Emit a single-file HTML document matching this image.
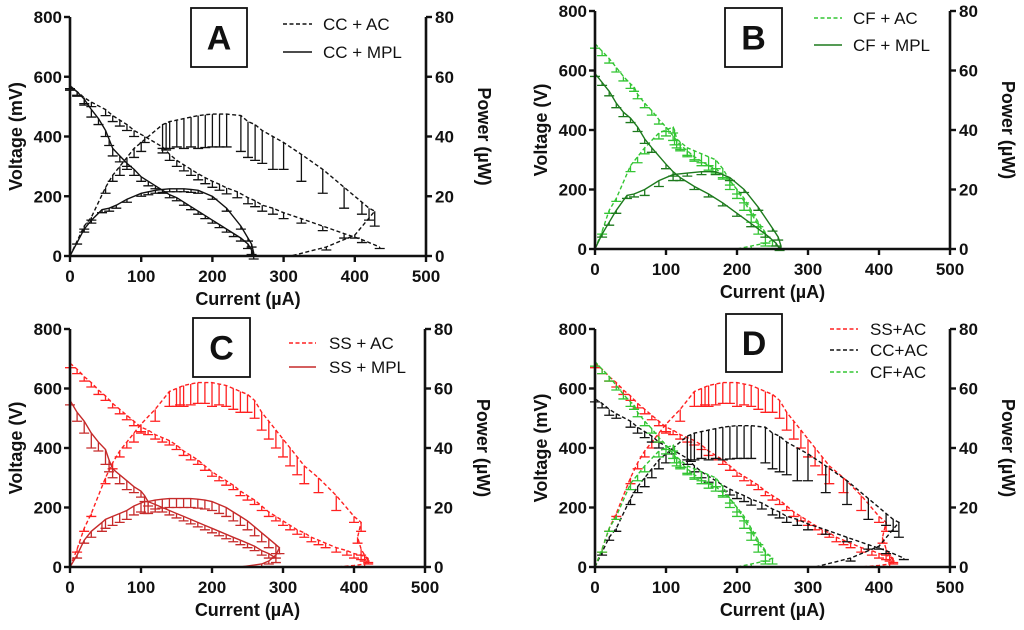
<!DOCTYPE html>
<html><head><meta charset="utf-8">
<style>
body{margin:0;background:#fff;}
svg{display:block;font-family:"Liberation Sans",Arial,sans-serif;}
.tk{font-size:17px;font-weight:bold;fill:#111;}
.tt{font-size:18px;font-weight:bold;fill:#111;}
.lg{font-size:17px;fill:#111;}
</style></head>
<body>
<svg id="chart" width="1024" height="630" viewBox="0 0 1024 630"></svg>
<script>
// ---------- data ----------
const xTicks = [0,100,200,300,400,500];
const vTicks = [0,200,400,600,800];
const pTicks = [0,20,40,60,80];

// CC + AC
const ccAcVI = [0,10,20,30,50,60,70,80,90,105,130,140,150,160,170,180,190,200,210,220,235,250,260,270,285,300,325,355,385,410,435];
const ccAcV  = [565,550,530,515,490,470,455,440,420,400,365,340,320,305,290,275,262,250,240,228,215,195,185,170,160,145,125,100,75,55,30];
const ccAcVE = [10,15,20,15,20,20,20,20,20,20,20,20,20,20,20,20,20,20,20,20,20,20,20,20,20,20,15,15,15,10,5];
const ccAcPI = [0,10,20,30,50,60,70,80,90,100,130,135,140,150,160,170,180,190,200,210,220,240,250,260,270,285,300,325,355,385,410,420,428,400,360,310];
const ccAcP  = [0,5,10,13,23,27,30,33,36,38,44,44.5,45,45.5,46,46.5,47,47.3,47.5,47.5,47.5,47,45,44,42,40,38,34,29,23,18,16,15,7,3,0];
const ccAcPE = [0,1,1,1,2,2,3,3,3,3,8,9,9,9,10,10,11,11,11,11,11,12,12,12,11,11,9,9,8,7,4,4,5,1,1,0];

// CC + MPL
const ccMpVI = [0,10,20,30,40,50,55,60,70,80,90,100,110,120,130,140,150,160,170,180,190,200,210,220,230,240,250,255,258];
const ccMpV  = [570,550,525,490,460,420,390,360,335,310,290,265,250,235,220,205,195,180,165,150,135,120,105,90,75,60,40,20,0];
const ccMpVE = [10,12,20,25,20,20,20,25,20,20,20,15,15,10,10,10,10,10,10,10,10,10,10,10,10,10,15,15,10];
const ccMpPI = [0,20,30,45,55,65,80,100,110,120,130,140,150,160,170,180,200,220,240,250,255,258,252];
const ccMpP  = [0,9,12,15.5,16,17,19,21,21.5,22,22.3,22.5,22.5,22.5,22.3,22,20,16,10,6,4,1,0];
const ccMpPE = [0,1,1,1,1,1,1,1,1,1,1,1,1,1,1,1,1,1,1,1,1,1,0];

// CF + AC
const cfAcVI = [0,10,20,30,40,50,55,60,70,80,90,100,110,115,120,130,140,150,160,170,180,190,200,210,220,230,240];
const cfAcV  = [690,665,640,610,580,555,545,520,490,465,435,410,380,365,350,330,310,295,280,270,250,230,200,170,130,90,55];
const cfAcVE = [15,15,15,15,15,15,15,15,15,15,15,15,15,15,15,15,15,15,15,15,15,15,15,15,15,15,15];
const cfAcPI = [0,10,20,30,50,60,70,90,100,110,112,115,120,130,140,150,160,170,180,190,200,210,220,230,240,250,240,220,200];
const cfAcP  = [0,6,13,17,28,31,34,39,40,41,40,37,36,34,33,32,31,30,27,23,20,16,12,8,5,3,2,1,0];
const cfAcPE = [0,1,1,1,2,2,2,2,2,2,5,3,3,3,3,3,3,3,3,3,3,3,3,3,3,2,1,1,0];

// CF + MPL
const cfMpVI = [0,10,20,30,40,50,60,70,80,100,110,120,140,160,180,200,220,240,255,260];
const cfMpV  = [590,560,530,490,460,440,410,370,340,285,260,240,210,185,155,120,85,50,20,0];
const cfMpVE = [10,10,15,15,15,15,15,15,15,15,15,10,10,10,10,10,10,10,10,5];
const cfMpPI = [0,10,20,30,45,55,70,90,110,130,150,170,190,210,230,250,258,262,258];
const cfMpP  = [0,5,9,13,18,18.5,20,23,25,25.5,26,26,24,20,14,7,4,1,0];
const cfMpPE = [0,1,1,1,1,1,2,2,2,1,1,1,1,1,1,1,1,1,0];

// SS + AC
const ssAcVI = [0,10,20,30,40,50,60,70,80,90,100,110,120,130,140,150,160,170,180,190,200,210,220,230,240,250,260,270,280,290,300,310,320,330,340,350,360,375,390,400,410,420];
const ssAcV  = [685,665,640,620,595,575,550,530,510,490,470,460,445,435,425,410,390,375,360,340,320,305,290,275,255,240,225,205,185,170,155,140,125,115,100,90,80,65,55,45,40,30];
const ssAcVE = [15,15,15,15,15,15,15,15,15,15,15,15,15,15,15,15,15,15,15,15,15,15,15,15,15,15,15,15,15,15,15,15,15,15,15,15,15,15,15,15,15,15];
const ssAcPI = [0,10,20,30,50,60,70,80,90,100,120,140,150,155,160,170,180,190,200,210,220,230,240,250,260,270,280,290,300,310,320,330,350,375,400,410,405,410,415,420,415,400,375];
const ssAcP  = [0,6,13,18,30,35,39,42,45,48,53,59,60,60.5,61,61.5,62,62,62,61.5,61,60,59,58,56,52,49,46,43,40,37,34,30,24,17,15,10,6,4,2,1,0.5,0];
const ssAcPE = [0,1,1,1,2,2,2,2,3,3,4,5,6,6,7,7,7,7,8,7,7,7,7,6,6,6,6,6,6,6,6,6,5,5,2,3,2,2,2,1,1,0,0];

// SS + MPL
const ssMpVI = [0,10,20,30,40,50,55,60,70,80,90,100,105,110,120,130,140,150,160,170,180,190,200,210,220,230,240,250,260,270,280,290];
const ssMpV  = [560,520,490,450,420,395,360,330,310,290,270,255,240,220,210,200,190,180,170,160,150,140,130,120,110,100,90,80,70,55,45,30];
const ssMpVE = [15,30,40,50,30,50,40,30,30,30,20,20,20,15,15,15,15,15,15,15,15,15,15,15,15,15,15,15,15,15,15,15];
const ssMpPI = [0,10,20,30,45,50,60,70,80,90,100,105,110,120,130,140,150,160,170,180,190,200,210,220,230,240,250,260,270,280,290,295,290,280,270,240];
const ssMpP  = [0,4,9,12,15,16,17,18,19,20.5,21.5,22,22,22.5,22.8,23,23,23,23,22.8,22.5,22,21,20,18.5,17,15.5,13.5,11.5,9.5,7.5,6.5,4,2,1,0];
const ssMpPE = [0,1,1,2,3,3,3,3,3,3,3,4,4,4,3,3,3,3,3,3,3,3,3,3,3,3,3,3,3,3,3,2,1,1,1,0];

// ---------- drawing ----------
const NS = 'http://www.w3.org/2000/svg';
const svg = document.getElementById('chart');
function mk(tag, attrs, parent){
  const e = document.createElementNS(NS, tag);
  for (const k in attrs) e.setAttribute(k, attrs[k]);
  (parent||svg).appendChild(e);
  return e;
}
const C_CC='#111', C_CFAC='#33c533', C_CFMP='#1d7a1d', C_SSAC='#ff2020', C_SSMP='#c62a2a';
function ser(name,color,dash,vi,v,ve,pi,p,pe,label){return {name,color,dash,vi,v,ve,pi,p,pe,label};}
const sCcAc = ser('cc-ac',C_CC,true,ccAcVI,ccAcV,ccAcVE,ccAcPI,ccAcP,ccAcPE,'CC + AC');
const sCcMp = ser('cc-mpl',C_CC,false,ccMpVI,ccMpV,ccMpVE,ccMpPI,ccMpP,ccMpPE,'CC + MPL');
const sCfAc = ser('cf-ac',C_CFAC,true,cfAcVI,cfAcV,cfAcVE,cfAcPI,cfAcP,cfAcPE,'CF + AC');
const sCfMp = ser('cf-mpl',C_CFMP,false,cfMpVI,cfMpV,cfMpVE,cfMpPI,cfMpP,cfMpPE,'CF + MPL');
const sSsAc = ser('ss-ac',C_SSAC,true,ssAcVI,ssAcV,ssAcVE,ssAcPI,ssAcP,ssAcPE,'SS + AC');
const sSsMp = ser('ss-mpl',C_SSMP,false,ssMpVI,ssMpV,ssMpVE,ssMpPI,ssMpP,ssMpPE,'SS + MPL');

const panels = [
 {id:'a',letter:'A',x0:70,x1:426,yT:17,yB:256,ylab:'Voltage (mV)',series:[sCcAc,sCcMp],box:[191,8,56,59],leg:{x1:283,x2:312,tx:323,ys:[24,52]},labels:null},
 {id:'b',letter:'B',x0:595,x1:950,yT:11,yB:249,ylab:'Voltage (V)',series:[sCfAc,sCfMp],box:[725,8,57,59],leg:{x1:814,x2:842,tx:853,ys:[18,45]},labels:null},
 {id:'c',letter:'C',x0:70,x1:425,yT:329,yB:567,ylab:'Voltage (V)',series:[sSsAc,sSsMp],box:[193,318,57,59],leg:{x1:289,x2:316,tx:329,ys:[343,367]},labels:null},
 {id:'d',letter:'D',x0:595,x1:950,yT:329,yB:567,ylab:'Voltage (mV)',series:[sSsAc,sCcAc,sCfAc],box:[726,314,56,58],leg:{x1:830,x2:858,tx:870,ys:[329,350,372]},labels:['SS+AC','CC+AC','CF+AC']}
];

panels.forEach(P=>{
  const g = mk('g',{});
  
  
  const X = v => P.x0 + (P.x1-P.x0)*v/500;
  const YV = v => P.yB - (P.yB-P.yT)*v/800;
  const YP = v => P.yB - (P.yB-P.yT)*v/80;

  P.series.forEach(S=>{
    const sg = mk('g',{stroke:S.color,fill:'none'},g);
    
    
    const da = S.dash ? '4,2.5' : null;
    [[S.vi,S.v,S.ve,YV,'voltage'],[S.pi,S.p,S.pe,YP,'power']].forEach(([xi,yv,ye,Y,kind])=>{
      const pts = xi.map((x,i)=>X(x).toFixed(1)+','+Y(yv[i]).toFixed(1)).join(' ');
      const pl = mk('polyline',{points:pts,'stroke-width':1.4},sg);
      if(da) pl.setAttribute('stroke-dasharray',da);
      
      
      xi.forEach((x,i)=>{
        if(!ye[i]) return;
        const cx=X(x), y1=Y(yv[i]), y2=Y(yv[i]-ye[i]);
        const eb = mk('path',{d:`M${cx},${y1}V${y2}M${cx-5},${y2}H${cx+5}`,'stroke-width':1.3},sg);
        
        
      });
    });
  });

  const ax = mk('path',{d:`M${P.x0},${P.yT}V${P.yB}H${P.x1}V${P.yT}`,stroke:'#111','stroke-width':2.6,fill:'none'},g);
  
  
  xTicks.forEach(t=>{
    const x=X(t);
    mk('line',{x1:x,x2:x,y1:P.yB,y2:P.yB+6,stroke:'#111','stroke-width':2.4},g);
    const tx=mk('text',{x:x,y:P.yB+26,'text-anchor':'middle',class:'tk'},g);
    tx.textContent=t;
    
    
  });
  vTicks.forEach(t=>{
    const y=YV(t);
    mk('line',{x1:P.x0-6,x2:P.x0,y1:y,y2:y,stroke:'#111','stroke-width':2.4},g);
    const tx=mk('text',{x:P.x0-8,y:y+6,'text-anchor':'end',class:'tk'},g);
    tx.textContent=t;
    
    
  });
  pTicks.forEach(t=>{
    const y=YP(t);
    mk('line',{x1:P.x1,x2:P.x1+6,y1:y,y2:y,stroke:'#111','stroke-width':2.4},g);
    const tx=mk('text',{x:P.x1+9,y:y+6,'text-anchor':'start',class:'tk'},g);
    tx.textContent=t;
    
    
  });
  const xt=mk('text',{x:(P.x0+P.x1)/2,y:P.yB+49,'text-anchor':'middle',class:'tt'},g);
  xt.textContent='Current (µA)';
  
  
  const ym=(P.yT+P.yB)/2;
  const yl=mk('text',{x:0,y:0,'text-anchor':'middle',class:'tt',transform:`translate(${P.x0-48},${ym}) rotate(-90)`},g);
  yl.textContent=P.ylab;
  
  
  const yr=mk('text',{x:0,y:0,'text-anchor':'middle',class:'tt',transform:`translate(${P.x1+52},${ym}) rotate(90)`},g);
  yr.textContent='Power (µW)';
  
  

  const b=P.box;
  const bx=mk('rect',{x:b[0],y:b[1],width:b[2],height:b[3],fill:'#fff',stroke:'#111','stroke-width':1.8},g);
  
  
  const lt=mk('text',{x:b[0]+b[2]/2,y:b[1]+b[3]/2+12,'text-anchor':'middle','font-size':34,'font-weight':'bold',fill:'#111'},g);
  lt.textContent=P.letter;
  
  

  P.series.forEach((S,i)=>{
    const y=P.leg.ys[i];
    const ll=mk('line',{x1:P.leg.x1,x2:P.leg.x2,y1:y,y2:y,stroke:S.color,'stroke-width':1.6},g);
    if(S.dash) ll.setAttribute('stroke-dasharray','4,2.5');
    
    
    const lx=mk('text',{x:P.leg.tx,y:y+6,class:'lg'},g);
    lx.textContent=P.labels?P.labels[i]:S.label;
    
    
  });
});
</script>
</body></html>
